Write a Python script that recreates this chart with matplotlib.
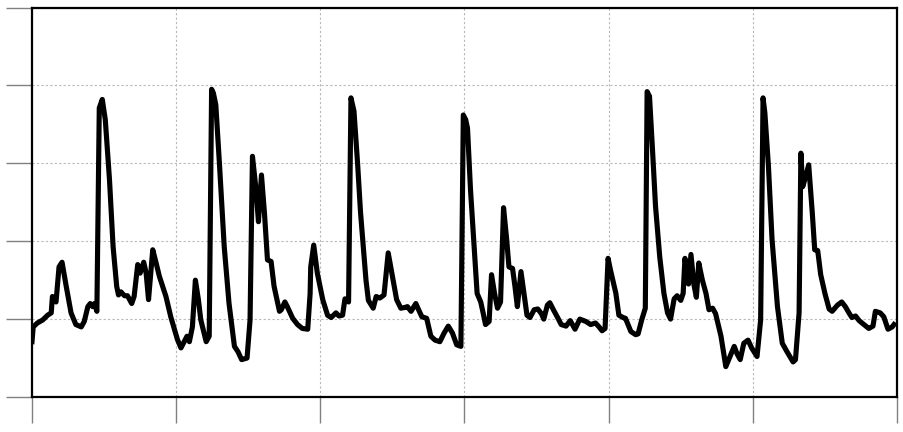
import numpy as np
import matplotlib
matplotlib.use("Agg")
import matplotlib.pyplot as plt

# ---- data (hours, level) ----
hours = [0.0, 0.2, 0.9, 1.8, 2.6, 3.2, 3.4, 4.0, 4.5, 5.0, 5.7, 6.5, 7.3, 8.2, 8.7, 9.3, 9.7, 10.1, 10.4, 10.8,
         11.2, 11.7, 12.2, 12.9, 13.5, 14.1, 14.4, 14.8, 15.4, 15.9, 16.6, 17.0, 17.6, 18.0, 18.6, 19.0, 19.4,
         20.1, 20.6, 21.2, 22.3, 23.1, 24.2, 24.8, 25.8, 26.2, 26.7, 27.2, 27.7, 28.1, 29.0, 29.5, 29.9, 30.2,
         30.6, 31.2, 32.0, 32.8, 33.7, 34.3, 34.9, 35.8, 36.3, 36.7, 37.3, 37.7, 38.2, 38.7, 39.2, 39.8, 40.3,
         41.2, 41.5, 42.1, 42.5, 43.4, 44.2, 45.0, 45.9, 46.3, 46.4, 46.9, 47.5, 48.4, 49.2, 49.8, 50.6, 51.1,
         51.7, 52.1, 52.7, 53.1, 53.6, 54.2, 54.7, 55.6, 56.0, 56.8, 57.3, 57.9, 58.6, 59.3, 60.0, 60.7, 61.4,
         62.1, 62.5, 63.1, 63.9, 64.3, 64.9, 65.7, 66.4, 67.1, 67.9, 68.6, 69.3, 70.0, 70.7, 71.4, 71.8, 72.2,
         72.5, 73.0, 73.6, 74.1, 74.7, 75.1, 75.5, 76.1, 76.5, 77.0, 77.5, 78.0, 78.5, 79.0, 79.4, 80.0, 80.4,
         80.8, 81.4, 81.9, 82.4, 82.9, 83.6, 84.2, 84.8, 85.2, 85.8, 86.2, 86.8, 87.5, 88.1, 88.9, 89.6, 90.4,
         91.2, 92.2, 93.0, 93.8, 94.4, 94.9, 95.4, 95.9, 96.3, 97.2, 97.7, 98.4, 98.8, 99.7, 100.5, 100.9,
         101.5, 102.1, 102.4, 102.8, 103.3, 103.8, 104.5, 105.2, 105.8, 106.3, 106.9, 107.4, 108.0, 108.4,
         108.7, 109.3, 109.7, 110.2, 110.6, 111.0, 111.6, 112.2, 112.7, 113.3, 113.8, 114.7, 115.5, 116.2,
         116.9, 117.4, 117.9, 118.5, 119.2, 119.8, 120.7, 121.3, 121.7, 122.0, 122.6, 123.2, 124.1, 124.9,
         125.7, 126.7, 127.1, 127.7, 128.0, 128.3, 128.8, 129.3, 129.9, 130.3, 130.8, 131.3, 132.0, 132.7,
         133.2, 134.1, 134.8, 135.4, 136.0, 136.5, 137.1, 137.7, 138.5, 139.3, 140.0, 140.4, 141.2, 141.8,
         142.5, 143.2, 143.5]
level = [0.71, 0.90, 0.95, 0.99, 1.05, 1.08, 1.29, 1.22, 1.67, 1.73, 1.42, 1.08, 0.93, 0.90, 0.97, 1.16, 1.20,
         1.16, 1.20, 1.10, 3.71, 3.82, 3.56, 2.79, 1.93, 1.42, 1.31, 1.35, 1.30, 1.30, 1.20, 1.29, 1.70, 1.59,
         1.73, 1.59, 1.25, 1.89, 1.74, 1.55, 1.29, 1.03, 0.74, 0.63, 0.78, 0.71, 0.90, 1.50, 1.25, 0.99, 0.71,
         0.78, 3.95, 3.90, 3.75, 3.00, 1.93, 1.20, 0.65, 0.58, 0.48, 0.50, 0.99, 3.09, 2.66, 2.25, 2.85, 2.36,
         1.76, 1.74, 1.42, 1.10, 1.12, 1.22, 1.16, 1.01, 0.93, 0.88, 0.87, 1.33, 1.67, 1.95, 1.59, 1.25, 1.05,
         1.02, 1.08, 1.04, 1.05, 1.26, 1.22, 3.84, 3.67, 3.00, 2.36, 1.50, 1.24, 1.14, 1.29, 1.27, 1.31, 1.85,
         1.55, 1.25, 1.14, 1.15, 1.16, 1.10, 1.20, 1.13, 1.03, 1.01, 0.78, 0.73, 0.71, 0.82, 0.91, 0.82, 0.67,
         0.65, 3.62, 3.56, 3.45, 2.66, 1.93, 1.33, 1.22, 1.08, 0.93, 0.97, 1.57, 1.33, 1.14, 1.22, 2.43, 2.04,
         1.67, 1.65, 1.42, 1.16, 1.61, 1.33, 1.05, 1.02, 1.12, 1.13, 1.07, 1.00, 1.18, 1.21, 1.12, 1.02, 0.93,
         0.91, 0.98, 0.87, 1.00, 0.97, 0.93, 0.95, 0.90, 0.85, 0.88, 1.78, 1.63, 1.33, 1.05, 1.02, 1.01, 0.84,
         0.80, 0.81, 0.99, 1.14, 3.92, 3.86, 3.17, 2.45, 1.80, 1.33, 1.08, 1.00, 1.26, 1.30, 1.24, 1.33, 1.78,
         1.45, 1.83, 1.44, 1.28, 1.72, 1.50, 1.33, 1.12, 1.14, 1.07, 0.78, 0.39, 0.52, 0.65, 0.55, 0.48, 0.69,
         0.73, 0.63, 0.52, 0.99, 3.84, 3.65, 2.96, 2.02, 1.16, 0.69, 0.58, 0.45, 0.48, 1.08, 3.13, 2.70, 2.83,
         2.98, 2.36, 1.89, 1.88, 1.57, 1.33, 1.13, 1.10, 1.18, 1.22, 1.16, 1.08, 1.02, 1.04, 0.98, 0.93, 0.88,
         0.91, 1.10, 1.08, 1.03, 0.87, 0.90, 0.93]

x_ticks = np.arange(0, 145, 24)
y_ticks = np.arange(0, 6, 1)

fig = plt.figure(figsize=(9.04, 4.32), dpi=100)
ax = fig.add_axes([32/904, 35/432, 865/904, 389.5/432])

ax.plot(hours, level, color="black", lw=3.7, solid_joinstyle="round")

ax.set_xlim(0, 144)
ax.set_ylim(0, 5)
ax.set_xticks(x_ticks)
ax.set_yticks(y_ticks)
ax.set_xticklabels([])
ax.set_yticklabels([])
ax.tick_params(length=19, width=1, color="#808080", direction="out")
ax.grid(True, color="#b8b8b8", linestyle=(0, (2, 2)), lw=0.8)
for s in ax.spines.values():
    s.set_linewidth(1.6)
    s.set_color("black")

fig.savefig("out.png", dpi=100)
